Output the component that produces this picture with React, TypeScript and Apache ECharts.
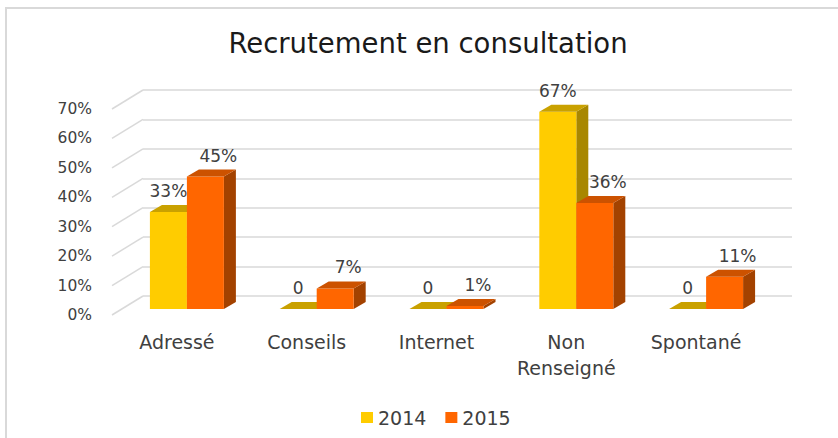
import React, { useEffect, useRef } from 'react';
import * as echarts from 'echarts';

const categories = ['Adressé', 'Conseils', 'Internet', 'Non\nRenseigné', 'Spontané'];
const seriesNames = ['2014', '2015'];
const values2014 = [33, 0, 0, 67, 0];
const values2015 = [45, 7, 1, 36, 11];
const yTicks = [0, 10, 20, 30, 40, 50, 60, 70];
const Y_MIN = 0;
const Y_MAX = 70;
const Y_STEP = 10;
const titleText = 'Recrutement en consultation';

const FRONT = ['#FFCC00', '#FF6600'];
const TOP = ['#C9A100', '#CC5200'];
const SIDE = ['#A88700', '#A34200'];
const GRID_COLOR = '#D9D9D9';
const TEXT_COLOR = '#404040';
const FONT = 'DejaVu Sans';

const GRID_BACK = { left: 143, right: 46, top: 90, bottom: 142 };
const FLOOR_DX = 31;
const FLOOR_DY = 19;
const BAR_DX = -21;
const BAR_DY = 13;
const DEPTH_X = 12;
const DEPTH_Y = 7;
const BAR_RATIO = 0.285;
const LABEL_DX = [0, 13];
const LABEL_GAP = 21;

const fmt = (v: number) => (v === 0 ? '0' : `${v}%`);

const makeBarRender = (s: number) => (params: any, api: any) => {
  const cat = api.value(0);
  const val = api.value(1);
  const base = api.coord([cat, 0]);
  const topP = api.coord([cat, val]);
  const bw = api.size([1, 0])[0] * BAR_RATIO;
  const x0 = base[0] + BAR_DX + (s === 0 ? -bw : 0);
  const x1 = x0 + bw;
  const yb = base[1] + BAR_DY;
  const yt = topP[1] + BAR_DY;
  return {
    type: 'group',
    children: [
      {
        type: 'polygon',
        shape: { points: [[x1, yt], [x1 + DEPTH_X, yt - DEPTH_Y], [x1 + DEPTH_X, yb - DEPTH_Y], [x1, yb]] },
        style: { fill: SIDE[s] },
      },
      {
        type: 'rect',
        shape: { x: x0, y: yt, width: bw, height: Math.max(0, yb - yt) },
        style: { fill: FRONT[s] },
      },
      {
        type: 'polygon',
        shape: { points: [[x0, yt], [x1, yt], [x1 + DEPTH_X, yt - DEPTH_Y], [x0 + DEPTH_X, yt - DEPTH_Y]] },
        style: { fill: TOP[s] },
      },
      {
        type: 'text',
        style: {
          text: fmt(val),
          x: (x0 + x1) / 2 + LABEL_DX[s],
          y: yt - LABEL_GAP,
          align: 'center',
          verticalAlign: 'middle',
          fontSize: 17,
          fontFamily: FONT,
          fill: TEXT_COLOR,
        },
      },
    ],
  };
};

const diagRender = (params: any, api: any) => {
  const y = api.coord([0, api.value(1)])[1];
  const gx = params.coordSys.x;
  return {
    type: 'line',
    shape: { x1: gx, y1: y, x2: gx - FLOOR_DX, y2: y + FLOOR_DY },
    style: { stroke: GRID_COLOR, lineWidth: 1.5 },
  };
};

export default function App() {
  const ref = useRef<HTMLDivElement>(null);
  useEffect(() => {
    if (!ref.current) return;
    const chart = echarts.init(ref.current, undefined, { renderer: 'svg' });
    const option: any = {
      animation: false,
      backgroundColor: '#ffffff',
      graphic: [
        {
          type: 'rect',
          z: -10,
          shape: { x: 6, y: 8, width: 1000, height: 1000 },
          style: { fill: 'none', stroke: GRID_COLOR, lineWidth: 2 },
        },
        {
          type: 'text',
          x: 428,
          y: 43,
          style: {
            text: titleText,
            align: 'center',
            verticalAlign: 'middle',
            fontSize: 27.5,
            fontFamily: FONT,
            fill: '#1a1a1a',
          },
        },
      ],
      legend: {
        data: seriesNames,
        left: 356,
        top: 403,
        itemWidth: 12,
        itemHeight: 11,
        itemGap: 19,
        icon: 'rect',
        textStyle: { fontSize: 19, fontFamily: FONT, color: TEXT_COLOR },
      },
      grid: [
        { ...GRID_BACK },
        {
          left: GRID_BACK.left - FLOOR_DX,
          right: GRID_BACK.right + FLOOR_DX,
          top: GRID_BACK.top + FLOOR_DY,
          bottom: GRID_BACK.bottom - FLOOR_DY,
        },
      ],
      xAxis: [
        { type: 'category', gridIndex: 0, data: categories, show: false },
        {
          type: 'category',
          gridIndex: 1,
          data: categories,
          axisLine: { show: false },
          axisTick: { show: false },
          axisLabel: {
            margin: 14,
            fontSize: 19,
            lineHeight: 26,
            fontFamily: FONT,
            color: TEXT_COLOR,
            interval: 0,
          },
        },
      ],
      yAxis: [
        {
          type: 'value',
          gridIndex: 0,
          min: Y_MIN,
          max: Y_MAX,
          interval: Y_STEP,
          axisLabel: { show: false },
          axisLine: { show: false },
          axisTick: { show: false },
          splitLine: { show: true, lineStyle: { color: GRID_COLOR, width: 1.5 } },
        },
        {
          type: 'value',
          gridIndex: 1,
          min: Y_MIN,
          max: Y_MAX,
          interval: Y_STEP,
          axisLine: { show: false },
          axisTick: { show: false },
          splitLine: { show: false },
          axisLabel: {
            margin: 20,
            fontSize: 15.5,
            fontFamily: FONT,
            color: TEXT_COLOR,
            formatter: (v: number) => `${v}%`,
          },
        },
      ],
      series: [
        {
          type: 'custom',
          name: 'floor',
          xAxisIndex: 0,
          yAxisIndex: 0,
          renderItem: diagRender,
          data: yTicks.map((v) => [0, v]),
          encode: { x: 0, y: 1 },
          silent: true,
          z: 1,
        },
        {
          type: 'custom',
          name: seriesNames[0],
          xAxisIndex: 0,
          yAxisIndex: 0,
          itemStyle: { color: FRONT[0] },
          renderItem: makeBarRender(0),
          data: values2014.map((v, i) => [i, v]),
          encode: { x: 0, y: 1 },
          z: 2,
        },
        {
          type: 'custom',
          name: seriesNames[1],
          xAxisIndex: 0,
          yAxisIndex: 0,
          itemStyle: { color: FRONT[1] },
          renderItem: makeBarRender(1),
          data: values2015.map((v, i) => [i, v]),
          encode: { x: 0, y: 1 },
          z: 3,
        },
      ],
    };
    chart.setOption(option);
    return () => chart.dispose();
  }, []);
  return (
    <div
      ref={ref}
      style={{ position: 'fixed', left: 0, top: 0, width: 838, height: 438, background: '#fff' }}
    />
  );
}
